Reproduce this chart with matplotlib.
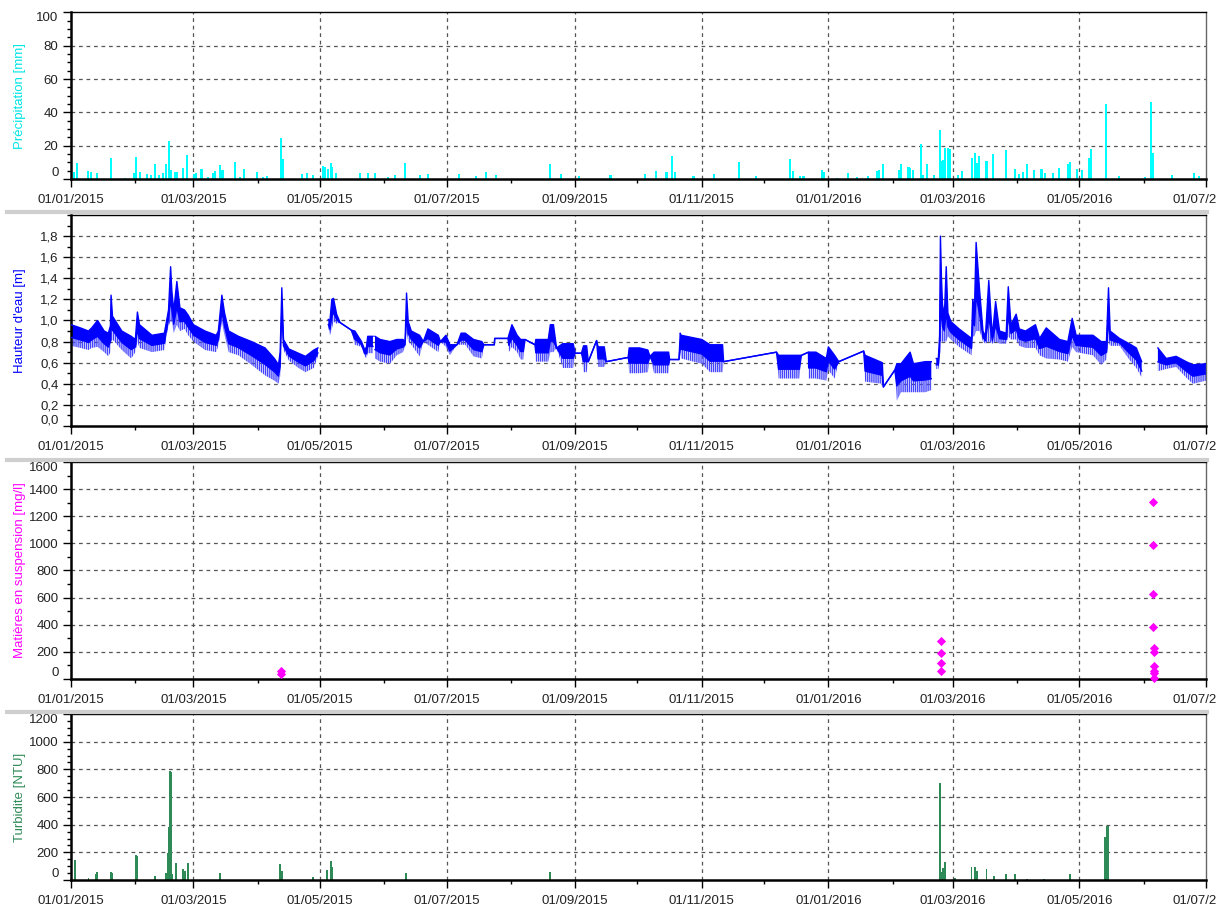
import numpy as np
import pandas as pd
import matplotlib
matplotlib.use("Agg")
import matplotlib.pyplot as plt
import matplotlib.dates as mdates
from matplotlib.ticker import MultipleLocator, FuncFormatter, FixedLocator
from matplotlib.lines import Line2D

plt.rcParams['font.family'] = ['Liberation Sans', 'DejaVu Sans']
plt.rcParams['hatch.linewidth'] = 1.0

# ================================
# DONNEES (jours depuis le 01/01/2015)
# ================================
start = pd.Timestamp('2015-01-01')

# Précipitation [mm]
p_day = [1.5, 3, 8.4, 9.5, 12.4, 19.1, 26, 30.5, 31.3, 33.2, 36.4, 38.7, 40.6, 42.5,
         44.5, 45.8, 47.4, 48, 50.1, 51, 54.1, 56.1, 59.3, 60.3, 62.9, 66, 68.6, 69.4,
         71.8, 73, 79, 81.5, 83.4, 89.5, 92.7, 94.4, 101, 102, 111.2, 113.6, 116.8,
         121.3, 122.4, 124, 125.2, 126, 127.7, 139.3, 143.3, 146.5, 152.9, 156, 161,
         168, 172, 187, 195, 200, 205, 231, 236, 245, 260, 276.6, 282, 287, 289.6, 291,
         300, 310, 322, 330, 346.5, 348, 351.4, 353, 362, 363, 369, 374.6, 378.6, 384.3,
         388.3, 389.6, 391.2, 399.2, 400, 403.6, 404.4, 406, 409.7, 410.5, 412.5, 415.7,
         418.6, 419.4, 420.4, 421.2, 422.5, 423.6, 427.3, 429.2, 434, 435.6, 436.5,
         437.5, 441.2, 444.4, 450.8, 454.8, 456.8, 458.7, 460.8, 464, 467.7, 469.6,
         473.2, 476.3, 480.5, 481.6, 484.8, 487.2, 490.7, 491.7, 498.8, 504.9, 517.7,
         520.5, 521.3, 530.6, 541.4, 543.5]
p_val = [4.4, 9.4, 5, 4.4, 3.8, 12.4, 0.8, 3.8, 13, 4.4, 3, 2.4, 8.8, 2.4,
         3.4, 8.8, 22.6, 5.4, 4, 4.4, 6.8, 14.4, 3, 3.4, 5.8, 1.4, 3.4, 5,
         8.4, 5.4, 10, 1.4, 5.8, 4, 1.4, 1.8, 24.8, 11.8, 3, 3.8, 2.4,
         8, 7, 6.2, 9.4, 7, 3.4, 3.8, 3.8, 3.8, 1.4, 2.4, 9.6,
         2.5, 3, 3, 2, 4, 2.5, 9, 3, 2, 2.5, 3, 5, 4, 14, 4,
         2, 3, 10, 2, 12, 5, 1.8, 1.8, 5.4, 4.4, 0.8, 3.4, 1.4, 2,
         5, 5.4, 8.8, 5.4, 8.8, 7.4, 6.4, 5.4, 21, 2.4, 8.8, 2.4,
         29.4, 11, 11.4, 18.4, 18.4, 17.8, 2.4, 4.8, 12.4, 15.8, 9.4,
         13.8, 11, 14.8, 17.2, 6.2, 2.8, 4.4, 8.8, 5.4, 6.2, 3.4,
         3.8, 6.8, 8.8, 10, 6, 5.4, 12.4, 17.8, 45, 1.8, 1.4,
         46.2, 15.4, 2.4, 3.8, 2]

# Hauteur d'eau [m] : enveloppe haute / basse (nan = lacune)
h_day = [0, 4.5, 8.4, 10, 12.8, 16, 18, 19, 19.3, 20, 24.5, 29, 31, 32, 33, 39, 45, 46, 47,
         48, 48.6, 49.5, 51, 52.5, 54.7, 56.5, 59, 64.6, 70, 71, 72.7, 74, 76, 80.7, 87,
         93.5, 98, 100, 100.8, 101.6, 102.4, 105, 109.6, 113, 117, 119, np.nan,
         124, 124.8, 125.7, 126.5, 128, 129.7, 135, 136.8, 140, 141.6, 142.4, 143, 145.5, np.nan,
         146.5, 149, 153.7, 157, 160, 161, 161.7, 162.5, 164, 168, 169.8, 172, 177, 178,
         180.7, 182.6, 186, 188, 190, 194, 198, 199, 204, 204.2, 210.6, 211, 212.5, 215,
         216.7, 218, 218.8, 223.6, 224, 230, 231, 232.5, 234, 237, 242, 243, 246, 247,
         248.5, 249.3, 253.3, 254, 257, 258, 268.5, 269, 274, 278, 279, 281, 288, 288.5,
         293, 293.6, 294, 304, 308, 314, 314.5, 340, 341, 351, 352, 355.4, 355.5, 359,
         364, 365, 368, 370, 382, 382.7, 391, 391.5, 397, 398, 400, 404.4, 406, 411.7,
         414.6, np.nan,
         417, 418, 418.6, 419, 419.5, 420, 420.9, 421.8, 422.6, 424, 428, 434, 434.6, 435.4,
         436.2, 437.9, 439.5, 440.7, 442.3, 444, 445.6, 447.5, 450.7, 451.7, 453, 455.5,
         457, 460, 464.8, 466.8, 470, 476.4, 480.4, 482.5, 484.4, 492.5, 496.5, 499, 500,
         500.8, 505.3, 510, 513.4, 516, np.nan,
         523.8, 527.8, 532.6, 537.4, 540.7, 547]
h_hi = [.96, .93, .90, .93, 1.0, .90, .88, .95, 1.24, 1.04, .90, .85, .82, 1.08, .96, .86, .88, .99, 1.10,
        1.51, 1.28, 1.09, 1.37, 1.12, 1.10, 1.05, .96, .90, .86, .90, 1.24, 1.07, .90, .85, .80,
        .74, .64, .58, .70, 1.31, .82, .73, .69, .66, .72, .74, np.nan,
        1.01, 1.00, 1.20, 1.21, 1.06, .98, .91, .90, .80, .72, .75, .85, .85, np.nan,
        .85, .82, .80, .82, .82, .80, 1.26, .99, .90, .86, .80, .92, .86, .80,
        .86, .77, .77, .88, .88, .82, .80, .77, .77, .83, .83, .86, .96, .86,
        .82, .82, .82, .77, .82, .82, .96, .96, .74, .78, .78, .69, .69, .76,
        .76, .61, .81, .75, .75, .61, .65, .74, .74, .72, .66, .70, .70, .63,
        .63, .88, .86, .82, .77, .77, .61, .70, .67, .67, .67, .70, .70, .70,
        .64, .75, .67, .61, .71, .67, .60, .37, .53, .59, .59, .70, .59, .61,
        .61, np.nan,
        .64, .64, .86, 1.80, 1.40, 1.15, 1.05, 1.51, 1.07, .99, .92, .83, 1.20, 1.10,
        1.74, 1.28, .90, .85, 1.38, .85, 1.18, .90, .88, 1.32, .96, 1.06,
        .92, .90, .96, .83, .93, .82, .80, 1.02, .86, .86, .80, .80, 1.31,
        .90, .83, .78, .74, .61, np.nan,
        .74, .64, .66, .61, .58, .59]
h_lo = [.76, .74, .72, .74, .75, .70, .66, .70, .80, .82, .72, .64, .70, .80, .74, .70, .72, .85, .95,
        .99, .99, .88, .96, .90, .92, .86, .80, .72, .70, .76, .98, .86, .70, .67, .58,
        .48, .43, .40, .47, .99, .72, .62, .55, .51, .55, .66, np.nan,
        .93, .86, .92, .99, .97, .98, .91, .77, .75, .66, .64, .69, .69, np.nan,
        .64, .61, .59, .67, .70, .75, .90, .80, .77, .66, .80, .77, .70, .80,
        .75, .67, .77, .77, .77, .66, .64, .77, .77, .83, .83, .70, .75, .70,
        .63, .63, .82, .77, .61, .61, .70, .70, .74, .55, .55, .69, .69, .51,
        .51, .61, .81, .56, .56, .61, .65, .50, .50, .51, .66, .50, .50, .63,
        .63, .70, .64, .59, .51, .51, .61, .70, .45, .45, .67, .70, .45, .45,
        .43, .53, .45, .61, .71, .42, .40, .37, .53, .24, .32, .32, .32, .32,
        .34, np.nan,
        .54, .54, .60, .80, .80, .80, .80, .80, .85, .82, .75, .67, .85, .85,
        .90, .90, .80, .78, .80, .78, .80, .78, .78, .85, .82, .82,
        .76, .74, .74, .67, .64, .63, .61, .75, .70, .67, .58, .63, .80,
        .76, .76, .63, .55, .46, np.nan,
        .52, .54, .56, .46, .40, .43]

# Matières en suspension [mg/l]
m_day = [101, 101, 419.3, 419.3, 419.3, 419.3, 521.3, 521.3, 521.3, 521.3, 521.7, 521.7,
         521.9, 521.7, 521.9, 522]
m_val = [60, 40, 281, 188, 114, 57, 1302, 987, 630, 380, 230, 200, 94, 60, 45, 4]

# Turbidité [NTU]
t_day = [2.1, 8.4, 12, 12.4, 19.1, 19.6, 31.3, 31.8, 40.5, 45.8, 46.6, 47.2, 47.6, 48, 48.5,
         50.6, 54.1, 55, 56.2, 71.8, 100.7, 101.5, 116.5, 123.2, 125.2, 126, 161.4, 231,
         418.6, 419.4, 420.4, 421.2, 425.9, 434, 435.6, 436.5, 441.2, 444.8, 450.8, 454.8,
         460.8, 468.8, 481.6, 498.4, 499.3, 499.8]
t_val = [142, 12, 41, 60, 60, 53, 181, 174, 29, 53, 198, 383, 788, 783, 41,
         120, 77, 65, 120, 48, 113, 65, 19, 70, 137, 94, 50, 60,
         704, 60, 89, 133, 12, 96, 96, 65, 77, 29, 41, 46,
         10, 10, 41, 311, 390, 390]


def to_dates(days):
    return start + pd.to_timedelta(np.asarray(days, dtype=float), unit='D')


def comma(v, pos):
    return f"{v:.1f}".replace('.', ',')


def style_axis(ax, ymax, major, minor, ylabel, color, labels, fmt=None):
    ax.set_xlim(pd.Timestamp('2015-01-01'), pd.Timestamp('2016-07-01'))
    ax.set_ylim(0, ymax)
    ax.xaxis.set_major_locator(mdates.MonthLocator(bymonth=[1, 3, 5, 7, 9, 11]))
    ax.xaxis.set_minor_locator(mdates.MonthLocator(bymonth=[2, 4, 6, 8, 10, 12]))
    ax.xaxis.set_major_formatter(mdates.DateFormatter('%d/%m/%Y'))
    ax.yaxis.set_major_locator(FixedLocator(labels))
    ax.yaxis.set_minor_locator(MultipleLocator(minor))
    if fmt is not None:
        ax.yaxis.set_major_formatter(FuncFormatter(fmt))
    ax.tick_params(axis='both', which='major', direction='out', length=6, width=1,
                   labelsize=9.5, colors='black', labelcolor='#222222', pad=3)
    ax.tick_params(axis='both', which='minor', direction='out', length=3, width=1)
    ax.tick_params(axis='x', which='major', pad=5)
    # grille pointillée
    ax.grid(False)
    for d in pd.date_range('2015-03-01', '2016-05-01', freq='2MS'):
        ax.axvline(d, color='#555555', lw=0.9, ls=(0, (3, 3)), zorder=0)
    for v in np.arange(major, ymax - 1e-9, major):
        ax.axhline(v, color='#555555', lw=0.9, ls=(0, (3, 3)), zorder=0)
    for side in ['left', 'bottom']:
        ax.spines[side].set_linewidth(1.8)
        ax.spines[side].set_color('black')
    ax.spines['top'].set_linewidth(1.0)
    ax.spines['right'].set_linewidth(1.0)
    ax.spines['right'].set_color('#666666')
    ax.set_ylabel(ylabel, color=color, fontsize=9.5)
    ax.yaxis.set_label_coords(-0.040, 0.5)
    # décalage des étiquettes extrêmes comme dans le logiciel
    tl = ax.get_yticklabels()
    if len(tl):
        tl[0].set_va('bottom')
        if labels[-1] >= ymax - 1e-9:
            tl[-1].set_va('top')


fig = plt.figure(figsize=(12.16, 9.06), dpi=100)
L, W = 0.0584, 0.9334
ax1 = fig.add_axes([L, 0.8024, W, 0.1840])
ax2 = fig.add_axes([L, 0.5298, W, 0.2329])
ax3 = fig.add_axes([L, 0.2506, W, 0.2395])
ax4 = fig.add_axes([L, 0.0287, W, 0.1832])

# ================================
# PRECIPITATION
# ================================
ax1.bar(to_dates(p_day), p_val, width=1.0, color='#00FFFF', lw=0, zorder=2)
style_axis(ax1, 100, 20, 5, 'Précipitation [mm]', '#00E5E5',
           [0, 20, 40, 60, 80, 100])

# ================================
# HAUTEUR D'EAU
# ================================
hd = to_dates(h_day)
hi = np.array(h_hi, dtype=float)
lo = np.array(h_lo, dtype=float)
mid = lo + 0.4 * (hi - lo)
ax2.fill_between(hd, mid, hi, color='#0000FF', lw=0, zorder=2)
ax2.fill_between(hd, lo, mid, facecolor='none', edgecolor='#4444FF', hatch='||||||||',
                 lw=0, zorder=2)
ax2.plot(hd, hi, color='#0000FF', lw=1.0, zorder=3)
ax2.plot(hd, mid, color='#0000FF', lw=1.0, zorder=3)
style_axis(ax2, 2.0, 0.2, 0.1, "Hauteur d'eau [m]", '#0000FF',
           [0.0, 0.2, 0.4, 0.6, 0.8, 1.0, 1.2, 1.4, 1.6, 1.8], fmt=comma)

# ================================
# MATIERES EN SUSPENSION
# ================================
ax3.scatter(to_dates(m_day), m_val, marker='D', s=22, color='#FF00FF', lw=0, zorder=3,
            clip_on=False)
style_axis(ax3, 1600, 200, 100, 'Matières en suspension [mg/l]', '#FF00FF',
           [0, 200, 400, 600, 800, 1000, 1200, 1400, 1600])

# ================================
# TURBIDITE
# ================================
ax4.bar(to_dates(t_day), t_val, width=0.9, color='#2E8B57', lw=0, zorder=2)
style_axis(ax4, 1200, 200, 50, 'Turbidite [NTU]', '#2E8B57',
           [0, 200, 400, 600, 800, 1000, 1200])

# séparateurs gris entre les graphiques
for y in [0.766, 0.4923, 0.2141]:
    fig.add_artist(Line2D([0.006, 0.9925], [y, y], transform=fig.transFigure,
                          color='#cfcfcf', lw=3))

fig.savefig('out.png', dpi=100)
